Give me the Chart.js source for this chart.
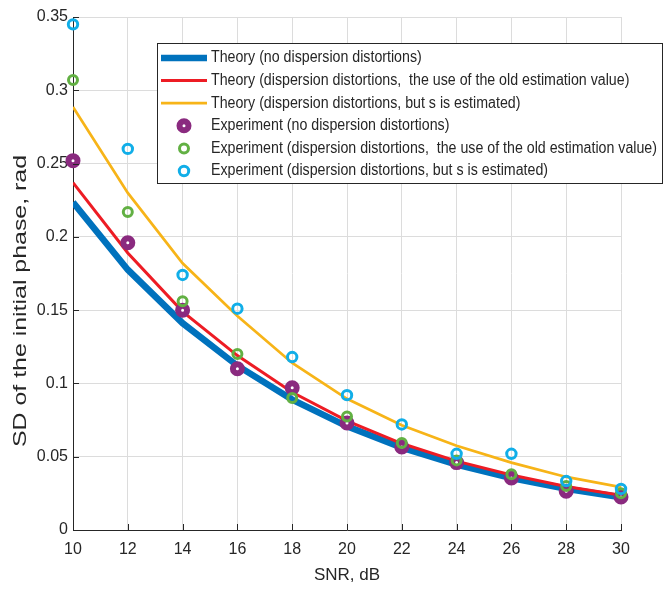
<!DOCTYPE html>
<html>
<head>
<meta charset="utf-8">
<script src="https://cdn.jsdelivr.net/npm/chart.js@4.4.1/dist/chart.umd.min.js"></script>
<style>
  html, body { margin: 0; padding: 0; background: #fff; }
  #wrap { width: 670px; height: 590px; }
</style>
</head>
<body>
<div id="wrap"><canvas id="sdChart"></canvas></div>
<script>
/* ================= DATA ================= */
const snr = [10, 12, 14, 16, 18, 20, 22, 24, 26, 28, 30];
const xTicks = [10, 12, 14, 16, 18, 20, 22, 24, 26, 28, 30];
const yTicks = [0, 0.05, 0.1, 0.15, 0.2, 0.25, 0.3, 0.35];

const theoryNoDisp = [0.2236, 0.1776, 0.1411, 0.1121, 0.0890, 0.0707, 0.0562, 0.0446, 0.0354, 0.0281, 0.0224];
const theoryOld    = [0.237, 0.189, 0.149, 0.119, 0.094, 0.0745, 0.059, 0.047, 0.0375, 0.0297, 0.0237];
const theoryEst    = [0.2886, 0.230, 0.182, 0.146, 0.114, 0.0895, 0.0715, 0.0575, 0.046, 0.0362, 0.0292];
const expNoDisp    = [0.252, 0.196, 0.150, 0.110, 0.097, 0.073, 0.0566, 0.046, 0.0355, 0.0265, 0.0225];
const expOld       = [0.307, 0.217, 0.156, 0.120, 0.090, 0.0775, 0.0593, 0.0475, 0.038, 0.030, 0.025];
const expEst       = [0.345, 0.260, 0.174, 0.151, 0.118, 0.092, 0.072, 0.052, 0.052, 0.0334, 0.028];

const labels = [
    'Theory (no dispersion distortions)',
    'Theory (dispersion distortions,  the use of the old estimation value)',
    'Theory (dispersion distortions, but s is estimated)',
    'Experiment (no dispersion distortions)',
    'Experiment (dispersion distortions,  the use of the old estimation value)',
    'Experiment (dispersion distortions, but s is estimated)'
];
const xTitle = 'SNR, dB';
const yTitle = 'SD of the initial phase, rad';

const FONT = "'Liberation Sans', Arial, sans-serif";
const TEXT = '#262626';

const pts = arr => arr.map((v, i) => ({ x: snr[i], y: v }));

function lineSet(label, data, color, width, order) {
    return {
        label, data: pts(data), borderColor: color, backgroundColor: color,
        borderWidth: width, pointRadius: 0, tension: 0, fill: false, order
    };
}
function markSet(label, data, color, radius, ring, fillColor, order) {
    return {
        label, data: pts(data), showLine: false, borderColor: color,
        backgroundColor: fillColor, pointRadius: radius, pointBorderWidth: ring,
        pointHoverRadius: radius, clip: false, order
    };
}

/* ================= PLUGINS ================= */
const innerTicks = {
    id: 'innerTicks',
    afterDraw(chart) {
        const { ctx, chartArea: a, scales: { x, y } } = chart;
        ctx.save();
        ctx.strokeStyle = TEXT;
        ctx.lineWidth = 1;
        ctx.beginPath();
        xTicks.forEach(v => {
            const px = Math.round(x.getPixelForValue(v)) + 0.5;
            ctx.moveTo(px, a.bottom); ctx.lineTo(px, a.bottom - 6);
        });
        yTicks.forEach(v => {
            const py = Math.round(y.getPixelForValue(v)) + 0.5;
            ctx.moveTo(a.left, py); ctx.lineTo(a.left + 6, py);
        });
        ctx.stroke();
        ctx.restore();
    }
};

// y title, stretched along its length like the reference
const yTitleDraw = {
    id: 'yTitleDraw',
    afterDraw(chart) {
        const { ctx } = chart;
        ctx.save();
        ctx.font = '18px ' + FONT;
        const w = ctx.measureText(yTitle).width;
        ctx.translate(21, 301);
        ctx.rotate(-Math.PI / 2);
        ctx.scale(292 / w, 1);
        ctx.fillStyle = TEXT;
        ctx.textAlign = 'center';
        ctx.textBaseline = 'middle';
        ctx.fillText(yTitle, 0, 0);
        ctx.restore();
    }
};

const boxLegend = {
    id: 'boxLegend',
    afterDraw(chart) {
        const { ctx } = chart;
        const left = 157, top = 43, w = 505, h = 140, rowH = 22.6;
        ctx.save();
        ctx.fillStyle = '#fff';
        ctx.fillRect(left, top, w, h);
        ctx.strokeStyle = TEXT;
        ctx.lineWidth = 1;
        ctx.strokeRect(left + 0.5, top + 0.5, w, h);
        ctx.font = '16px ' + FONT;
        ctx.textBaseline = 'middle';
        const longest = Math.max(...chart.data.datasets.map(d => ctx.measureText(d.label).width));
        const sx = 446 / longest;
        chart.data.datasets.forEach((ds, i) => {
            const cy = top + 15 + i * rowH;
            if (ds.showLine === false) {
                ctx.beginPath();
                ctx.arc(184, cy, ds.pointRadius, 0, Math.PI * 2);
                ctx.fillStyle = ds.backgroundColor;
                ctx.fill();
                ctx.lineWidth = ds.pointBorderWidth;
                ctx.strokeStyle = ds.borderColor;
                ctx.stroke();
            } else {
                ctx.beginPath();
                ctx.moveTo(161, cy); ctx.lineTo(207, cy);
                ctx.lineWidth = ds.borderWidth;
                ctx.strokeStyle = ds.borderColor;
                ctx.stroke();
            }
            ctx.save();
            ctx.translate(211, cy);
            ctx.scale(sx, 1);
            ctx.fillStyle = TEXT;
            ctx.fillText(ds.label, 0, 0);
            ctx.restore();
        });
        ctx.restore();
    }
};

/* ================= CHART ================= */
new Chart(document.getElementById('sdChart'), {
    type: 'line',
    data: {
        datasets: [
            lineSet(labels[0], theoryNoDisp, '#0072bd', 6.5, 6),
            lineSet(labels[1], theoryOld, '#ed1c24', 3, 5),
            lineSet(labels[2], theoryEst, '#f7b418', 2.7, 4),
            markSet(labels[3], expNoDisp, '#8a2a7f', 4.5, 6, '#ffffff', 3),
            markSet(labels[4], expOld, '#62b043', 4.5, 3, 'rgba(0,0,0,0)', 2),
            markSet(labels[5], expEst, '#11aee8', 4.7, 3, 'rgba(0,0,0,0)', 1)
        ]
    },
    options: {
        responsive: true,
        maintainAspectRatio: false,
        animation: false,
        layout: { padding: { left: 0, right: 49, top: 17, bottom: 0 } },
        plugins: { legend: { display: false }, tooltip: { enabled: false } },
        scales: {
            x: {
                type: 'linear', min: 10, max: 30,
                afterFit(s) { s.height = 60; },
                afterBuildTicks(s) { s.ticks = xTicks.map(v => ({ value: v })); },
                grid: { color: '#dcdcdc', drawTicks: false },
                border: { display: true, color: TEXT, width: 1 },
                ticks: { color: TEXT, padding: 10, font: { family: FONT, size: 16 } },
                title: { display: true, text: xTitle, color: TEXT, padding: { top: 0, bottom: 4 }, font: { family: FONT, size: 17 } }
            },
            y: {
                type: 'linear', min: 0, max: 0.35,
                afterFit(s) { s.width = 73; },
                afterBuildTicks(s) { s.ticks = yTicks.map(v => ({ value: v })); },
                grid: { color: '#dcdcdc', drawTicks: false },
                border: { display: true, color: TEXT, width: 1 },
                ticks: { color: TEXT, padding: 5, font: { family: FONT, size: 16 }, callback: v => String(v) },
                title: { display: false }
            }
        }
    },
    plugins: [innerTicks, yTitleDraw, boxLegend]
});
</script>
</body>
</html>
